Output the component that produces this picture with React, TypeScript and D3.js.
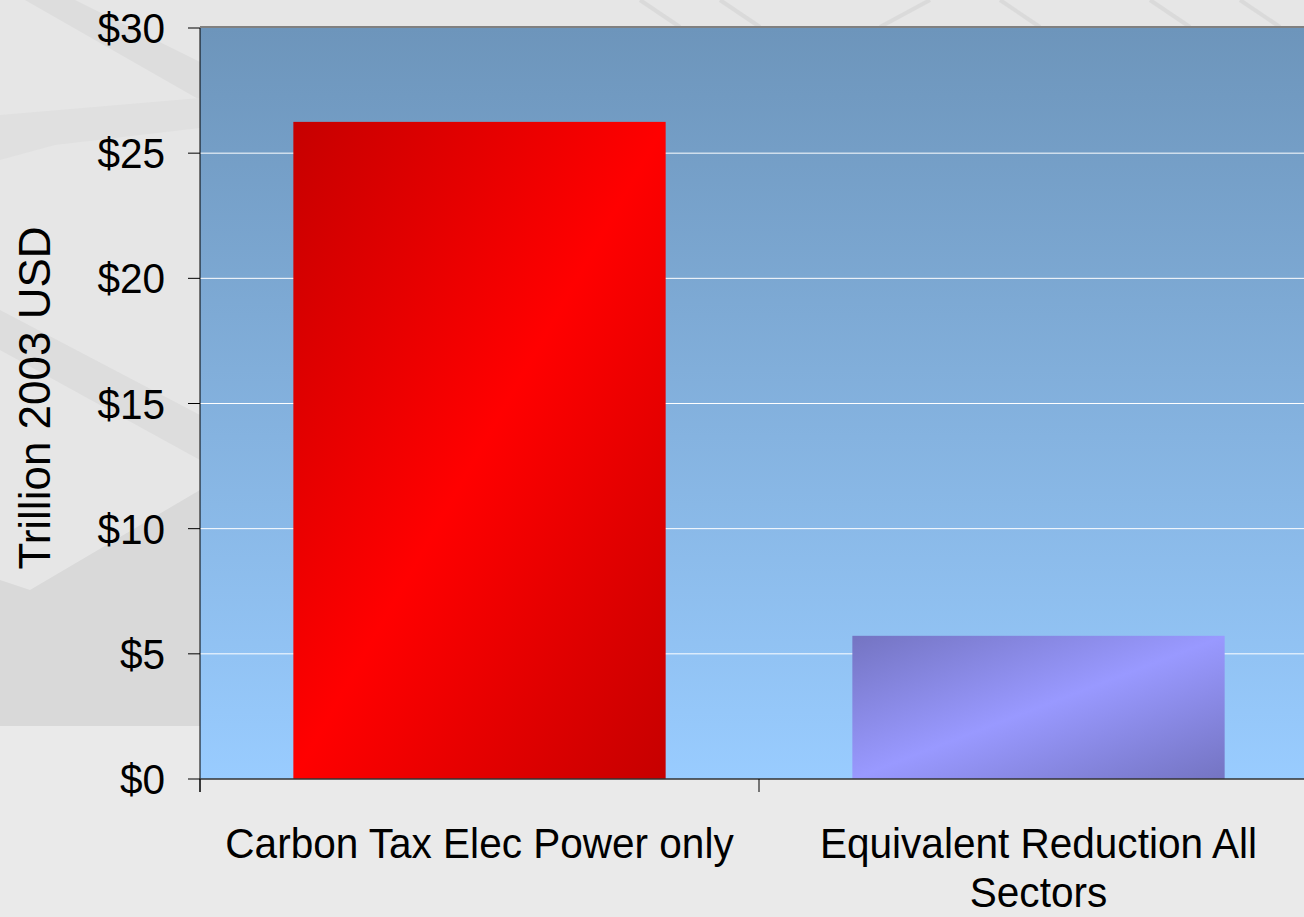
import React from 'react';
import * as d3 from 'd3';

const categories = ['Carbon Tax Elec Power only', 'Equivalent Reduction All Sectors'];
const categoryLines = [['Carbon Tax Elec Power only'], ['Equivalent Reduction All', 'Sectors']];
const values = [26.25, 5.72];
const yTicks = [0, 5, 10, 15, 20, 25, 30];
const barGradients = [
  { id: 'gradRed', dark: '#c60000', light: '#ff0000' },
  { id: 'gradPurple', dark: '#7474c2', light: '#9999ff' },
];

const W = 1304;
const H = 917;
const plot = { left: 200, top: 28, right: 1318, bottom: 779 };
const SX = 0.965; // labels in the reference are slightly condensed

const App = () => {
  const x = d3.scaleBand().domain(categories).range([plot.left, plot.right]).paddingInner(0.334).paddingOuter(0.167);
  const y = d3.scaleLinear().domain([0, 30]).range([plot.bottom, plot.top]);
  const font = '"Liberation Sans", Arial, sans-serif';

  return (
    <svg width={W} height={H} style={{ position: 'absolute', left: 0, top: 0 }}>
      <defs>
        <linearGradient id="plotBg" x1="0" y1="0" x2="0" y2="1">
          <stop offset="0" stopColor="#6d95bb" />
          <stop offset="1" stopColor="#99ccff" />
        </linearGradient>
        {barGradients.map(g => (
          <linearGradient key={g.id} id={g.id} x1="0" y1="0" x2="1" y2="1">
            <stop offset="0" stopColor={g.dark} />
            <stop offset="0.5" stopColor={g.light} />
            <stop offset="1" stopColor={g.dark} />
          </linearGradient>
        ))}
      </defs>

      {/* page background with faint diagonal pattern */}
      <rect x={0} y={0} width={W} height={H} fill="#eaeaea" />
      <rect x={0} y={0} width={W} height={726} fill="#e6e6e6" />
      <polygon points="25,0 75,0 200,62 200,100" fill="#dddddd" />
      <polygon points="0,115 200,98 200,128 55,145 0,160" fill="#e0e0e0" />
      <polygon points="0,310 200,415 200,460 0,350" fill="#dddddd" />
      <polygon points="0,580 30,590 200,490 200,726 0,726" fill="#d9d9d9" />
      <g stroke="#d8d8d8" strokeWidth={4} opacity={0.8}>
        <line x1={640} y1={0} x2={680} y2={27} />
        <line x1={720} y1={0} x2={760} y2={27} />
        <line x1={880} y1={27} x2={930} y2={0} />
        <line x1={1000} y1={0} x2={1040} y2={27} />
        <line x1={1150} y1={0} x2={1190} y2={27} />
        <line x1={1240} y1={0} x2={1280} y2={27} />
      </g>

      {/* plot area */}
      <rect x={plot.left} y={plot.top} width={W - plot.left} height={plot.bottom - plot.top} fill="url(#plotBg)" />
      <line x1={plot.left} x2={W} y1={plot.top - 1} y2={plot.top - 1} stroke="#808080" strokeWidth={2} />

      {yTicks.filter(t => t > 0 && t < 30).map(t => (
        <line key={t} x1={plot.left} x2={W} y1={y(t)} y2={y(t)} stroke="#ffffff" strokeWidth={1} />
      ))}

      {categories.map((c, i) => (
        <rect key={c} x={x(c)} y={y(values[i])} width={x.bandwidth()} height={y(0) - y(values[i])} fill={`url(#${barGradients[i].id})`} />
      ))}

      {/* axes */}
      <line x1={plot.left} x2={plot.left} y1={plot.top} y2={plot.bottom + 13} stroke="#000" strokeWidth={1} />
      <line x1={plot.left} x2={W} y1={plot.bottom} y2={plot.bottom} stroke="#333" strokeWidth={1.5} />
      {yTicks.map(t => (
        <g key={t}>
          <line x1={plot.left - 12} x2={plot.left} y1={y(t)} y2={y(t)} stroke="#000" />
          <text transform={`translate(165,${y(t)}) scale(${SX},1)`} dy="0.36em" textAnchor="end" fontFamily={font} fontSize={42} fill="#000">
            {d3.format('$')(t)}
          </text>
        </g>
      ))}
      {categories.map(c => {
        const bx = (x(c) as number) - x.step() * x.paddingInner() / 2;
        return (
          <line key={c} x1={bx} x2={bx} y1={plot.bottom} y2={plot.bottom + 13} stroke="#000" strokeWidth={1} />
        );
      })}

      {categories.map((c, i) => {
        const cx = (x(c) as number) + x.bandwidth() / 2;
        return (
          <text key={c} transform={`translate(${cx},858) scale(${SX},1)`} textAnchor="middle" fontFamily={font} fontSize={42} fill="#000">
            {categoryLines[i].map((line, j) => (
              <tspan key={j} x={0} dy={j === 0 ? 0 : 49}>{line}</tspan>
            ))}
          </text>
        );
      })}

      <text transform="translate(50,398) rotate(-90)" textAnchor="middle" fontFamily={font} fontSize={44} fill="#000">
        Trillion 2003 USD
      </text>
    </svg>
  );
};

export default App;
